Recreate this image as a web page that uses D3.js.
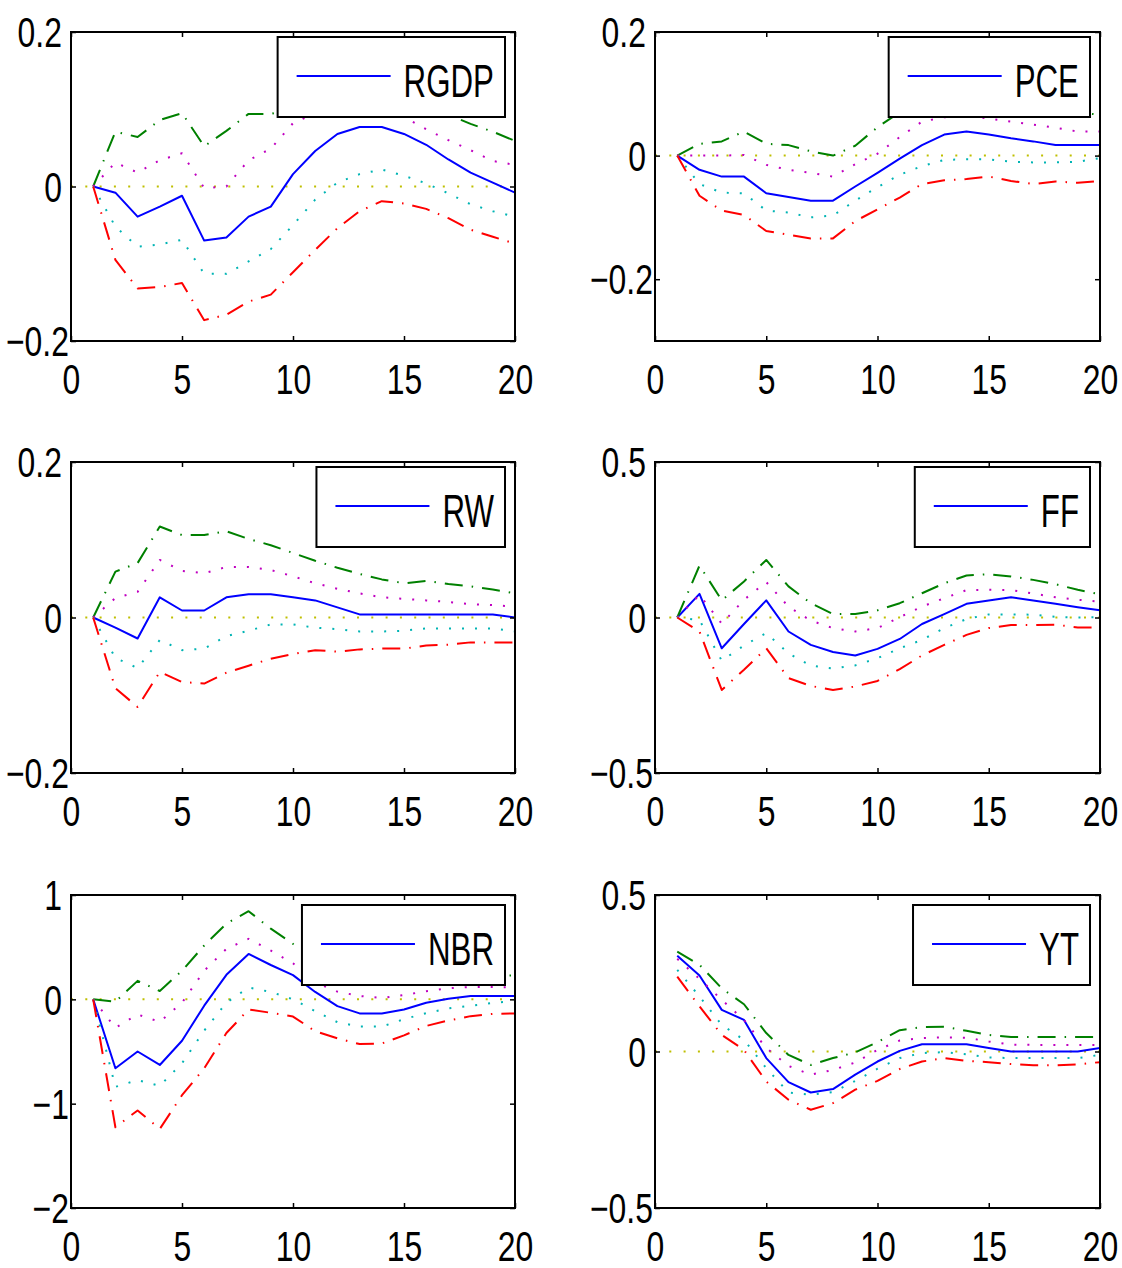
<!DOCTYPE html>
<html>
  <head>
    <title>Impulse responses</title>
    <script src="https://d3js.org/d3.v7.min.js"></script>
    <style>
      body { margin: 0; background: #fff; }
      text { font-family: "Liberation Sans", Arial, Helvetica, sans-serif; fill: #000; }
    </style>
  </head>
  <body>
    <div id="chart"></div>
    <script>
      // horizon (quarters) and x ticks
      const horizon = [1, 2, 3, 4, 5, 6, 7, 8, 9, 10, 11, 12, 13, 14, 15, 16, 17, 18, 19, 20];
      const xTicks = [0, 5, 10, 15, 20];

      // RGDP
      const rgdpMed  = [0, -0.008, -0.039, -0.026, -0.012, -0.070, -0.066, -0.039, -0.026, 0.016, 0.046, 0.068, 0.077, 0.077, 0.068, 0.054, 0.035, 0.018, 0.005, -0.008];
      const rgdpHi95 = [0, 0.071, 0.064, 0.086, 0.095, 0.052, 0.072, 0.094, 0.094, 0.100, 0.110, 0.120, 0.125, 0.125, 0.120, 0.108, 0.093, 0.081, 0.071, 0.059];
      const rgdpHi68 = [0, 0.031, 0.018, 0.034, 0.043, -0.002, 0.000, 0.034, 0.049, 0.082, 0.095, 0.105, 0.110, 0.100, 0.090, 0.074, 0.060, 0.047, 0.033, 0.028];
      const rgdpLo68 = [0, -0.052, -0.078, -0.075, -0.069, -0.113, -0.113, -0.097, -0.081, -0.050, -0.017, 0.005, 0.016, 0.022, 0.014, 0.004, -0.009, -0.023, -0.032, -0.039];
      const rgdpLo95 = [0, -0.095, -0.132, -0.130, -0.125, -0.173, -0.166, -0.149, -0.140, -0.111, -0.082, -0.054, -0.032, -0.019, -0.022, -0.029, -0.041, -0.056, -0.065, -0.074];

      // PCE
      const pceMed  = [0, -0.023, -0.034, -0.034, -0.061, -0.067, -0.073, -0.073, -0.050, -0.028, -0.005, 0.017, 0.034, 0.039, 0.034, 0.028, 0.023, 0.017, 0.017, 0.017];
      const pceHi95 = [0, 0.019, 0.023, 0.039, 0.019, 0.017, 0.007, 0.000, 0.016, 0.046, 0.070, 0.080, 0.085, 0.088, 0.085, 0.080, 0.077, 0.073, 0.070, 0.066];
      const pceHi68 = [0, 0.000, 0.000, 0.001, -0.015, -0.023, -0.028, -0.034, -0.014, 0.003, 0.030, 0.055, 0.062, 0.065, 0.060, 0.055, 0.050, 0.045, 0.039, 0.039];
      const pceLo68 = [0, -0.046, -0.060, -0.061, -0.089, -0.092, -0.100, -0.097, -0.073, -0.051, -0.031, -0.017, -0.007, -0.006, -0.006, -0.010, -0.011, -0.011, -0.010, -0.004];
      const pceLo95 = [0, -0.065, -0.089, -0.096, -0.122, -0.128, -0.134, -0.134, -0.106, -0.087, -0.068, -0.046, -0.040, -0.038, -0.034, -0.041, -0.046, -0.042, -0.044, -0.041];

      // RW
      const rwMed  = [0, -0.013, -0.027, 0.026, 0.009, 0.009, 0.026, 0.030, 0.030, 0.026, 0.022, 0.013, 0.004, 0.004, 0.004, 0.004, 0.004, 0.004, 0.004, 0.000];
      const rwHi95 = [0, 0.059, 0.070, 0.117, 0.106, 0.106, 0.111, 0.101, 0.093, 0.083, 0.073, 0.064, 0.056, 0.049, 0.044, 0.047, 0.043, 0.040, 0.036, 0.031];
      const rwHi68 = [0, 0.025, 0.033, 0.074, 0.060, 0.057, 0.065, 0.065, 0.061, 0.053, 0.044, 0.037, 0.031, 0.026, 0.024, 0.022, 0.020, 0.017, 0.016, 0.014];
      const rwLo68 = [0, -0.052, -0.065, -0.029, -0.042, -0.040, -0.024, -0.017, -0.009, -0.009, -0.013, -0.015, -0.018, -0.018, -0.017, -0.014, -0.014, -0.014, -0.014, -0.018];
      const rwLo95 = [0, -0.091, -0.115, -0.070, -0.083, -0.085, -0.071, -0.062, -0.053, -0.047, -0.042, -0.044, -0.041, -0.040, -0.040, -0.036, -0.035, -0.032, -0.032, -0.032];

      // FF
      const ffMed  = [0, 0.076, -0.099, -0.021, 0.055, -0.045, -0.088, -0.111, -0.122, -0.101, -0.069, -0.021, 0.011, 0.044, 0.055, 0.065, 0.055, 0.044, 0.033, 0.023];
      const ffHi95 = [0, 0.167, 0.055, 0.116, 0.185, 0.100, 0.046, 0.011, 0.011, 0.023, 0.046, 0.078, 0.110, 0.135, 0.139, 0.132, 0.121, 0.107, 0.089, 0.075];
      const ffHi68 = [0, 0.073, -0.020, 0.057, 0.114, 0.035, -0.010, -0.034, -0.045, -0.034, 0.001, 0.035, 0.062, 0.088, 0.089, 0.088, 0.077, 0.065, 0.057, 0.051];
      const ffLo68 = [0, -0.008, -0.139, -0.090, -0.050, -0.115, -0.155, -0.164, -0.154, -0.131, -0.099, -0.072, -0.034, -0.005, 0.010, 0.010, 0.009, 0.002, 0.000, 0.001];
      const ffLo95 = [0, -0.045, -0.233, -0.168, -0.099, -0.195, -0.220, -0.233, -0.222, -0.204, -0.166, -0.122, -0.088, -0.056, -0.034, -0.024, -0.024, -0.023, -0.032, -0.032];

      // NBR
      const nbrMed  = [0, -0.661, -0.500, -0.629, -0.397, -0.061, 0.235, 0.435, 0.329, 0.232, 0.071, -0.065, -0.135, -0.135, -0.097, -0.032, 0.006, 0.032, 0.032, 0.032];
      const nbrHi95 = [0, -0.023, 0.177, 0.080, 0.274, 0.516, 0.726, 0.845, 0.677, 0.532, 0.420, 0.300, 0.220, 0.200, 0.200, 0.200, 0.210, 0.220, 0.220, 0.230];
      const nbrHi68 = [0, -0.274, -0.145, -0.216, -0.032, 0.274, 0.484, 0.580, 0.468, 0.345, 0.161, 0.074, 0.032, 0.013, 0.042, 0.077, 0.106, 0.119, 0.119, 0.113];
      const nbrLo68 = [0, -0.839, -0.774, -0.829, -0.613, -0.300, -0.032, 0.113, 0.071, 0.000, -0.113, -0.219, -0.261, -0.261, -0.190, -0.132, -0.087, -0.061, -0.035, -0.016];
      const nbrLo95 = [0, -1.226, -1.065, -1.242, -0.919, -0.661, -0.323, -0.097, -0.129, -0.165, -0.306, -0.374, -0.429, -0.423, -0.345, -0.255, -0.203, -0.161, -0.139, -0.135];

      // YT
      const ytMed  = [0.306, 0.243, 0.133, 0.101, -0.021, -0.098, -0.131, -0.120, -0.074, -0.032, 0.002, 0.023, 0.023, 0.023, 0.011, 0.000, 0.000, 0.000, 0.000, 0.011];
      const ytHi95 = [0.319, 0.277, 0.202, 0.151, 0.059, -0.011, -0.043, -0.021, -0.003, 0.030, 0.068, 0.078, 0.079, 0.066, 0.053, 0.046, 0.046, 0.046, 0.046, 0.046];
      const ytHi68 = [0.296, 0.232, 0.165, 0.101, 0.011, -0.046, -0.074, -0.059, -0.035, 0.005, 0.035, 0.043, 0.045, 0.044, 0.032, 0.022, 0.021, 0.021, 0.021, 0.021];
      const ytLo68 = [0.261, 0.176, 0.085, 0.037, -0.053, -0.131, -0.138, -0.130, -0.094, -0.055, -0.021, -0.005, -0.002, -0.009, -0.019, -0.021, -0.021, -0.021, -0.021, -0.011];
      const ytLo95 = [0.239, 0.144, 0.053, 0.005, -0.096, -0.154, -0.186, -0.165, -0.122, -0.094, -0.056, -0.032, -0.021, -0.030, -0.034, -0.040, -0.044, -0.044, -0.041, -0.034];

      // y domains and ticks per panel
      const names = ["RGDP", "PCE", "RW", "FF", "NBR", "YT"];
      const yDomains = [[-0.2, 0.2], [-0.3, 0.2], [-0.2, 0.2], [-0.5, 0.5], [-2, 1], [-0.5, 0.5]];
      const yTicks = [[-0.2, 0, 0.2], [-0.2, 0, 0.2], [-0.2, 0, 0.2], [-0.5, 0, 0.5], [-2, -1, 0, 1], [-0.5, 0, 0.5]];
      const series = [
        [rgdpMed, rgdpHi95, rgdpHi68, rgdpLo68, rgdpLo95],
        [pceMed, pceHi95, pceHi68, pceLo68, pceLo95],
        [rwMed, rwHi95, rwHi68, rwLo68, rwLo95],
        [ffMed, ffHi95, ffHi68, ffLo68, ffLo95],
        [nbrMed, nbrHi95, nbrHi68, nbrLo68, nbrLo95],
        [ytMed, ytHi95, ytHi68, ytLo68, ytLo95]
      ];

      // line styles: median, upper 95, upper 68, lower 68, lower 95
      const styles = [
        { color: "#0000ff", dash: null, w: 2 },
        { color: "#008000", dash: "18 9 1.5 9", w: 2 },
        { color: "#c000c0", dash: "2 11", w: 2 },
        { color: "#00b4b4", dash: "2 11", w: 2 },
        { color: "#ff0000", dash: "18 9 1.5 9", w: 2 }
      ];

      const W = 1122, H = 1268;
      const colX = [[71, 515], [655, 1100]];
      const rowY = [[32, 341], [462, 773], [895, 1208]];
      const tickFont = 42, tickScale = 0.76, legFont = 46, legScale = 0.68;

      const svg = d3.select("#chart").append("svg").attr("width", W).attr("height", H);
      const fmt = (d) => String(d).replace("-", "\u2212");

      names.forEach((name, i) => {
        const [x0, x1] = colX[i % 2];
        const [y0, y1] = rowY[Math.floor(i / 2)];
        const x = d3.scaleLinear().domain([0, 20]).range([x0, x1]);
        const y = d3.scaleLinear().domain(yDomains[i]).range([y1, y0]);
        const g = svg.append("g");

        // zero line
        g.append("path")
          .attr("d", d3.line().x((d) => x(d[0])).y((d) => y(d[1]))([[0, 0], [20, 0]]))
          .attr("fill", "none")
          .attr("stroke", "#bfbf00")
          .attr("stroke-width", 2)
          .attr("stroke-dasharray", "2 12.3");

        const line = d3.line().x((d, k) => x(horizon[k])).y((d) => y(d));
        series[i].forEach((vals, k) => {
          const s = styles[k];
          g.append("path")
            .attr("d", line(vals))
            .attr("fill", "none")
            .attr("stroke", s.color)
            .attr("stroke-width", s.w)
            .attr("stroke-dasharray", s.dash)
            .attr("stroke-linejoin", "round");
        });

        // axes with inward ticks on all four sides
        const bottom = g.append("g").attr("transform", `translate(0,${y1})`)
          .call(d3.axisBottom(x).tickValues(xTicks).tickSizeInner(-5).tickSizeOuter(0).tickFormat(fmt));
        g.append("g").attr("transform", `translate(0,${y0})`)
          .call(d3.axisTop(x).tickValues(xTicks).tickSizeInner(-5).tickSizeOuter(0).tickFormat(""));
        const left = g.append("g").attr("transform", `translate(${x0},0)`)
          .call(d3.axisLeft(y).tickValues(yTicks[i]).tickSizeInner(-5).tickSizeOuter(0).tickFormat(fmt));
        g.append("g").attr("transform", `translate(${x1},0)`)
          .call(d3.axisRight(y).tickValues(yTicks[i]).tickSizeInner(-5).tickSizeOuter(0).tickFormat(""));
        g.selectAll(".domain").remove();
        g.selectAll(".tick line").attr("stroke", "#000").attr("stroke-width", 1.5);

        bottom.selectAll("text")
          .attr("y", null).attr("dy", null)
          .attr("transform", `translate(0,53) scale(${tickScale},1)`)
          .style("font-size", tickFont + "px")
          .attr("fill", "#000");
        left.selectAll("text")
          .attr("x", null).attr("dy", "0.35em")
          .attr("transform", (d) => `translate(${d < 0 ? -2 : -9},0) scale(${tickScale},1)`)
          .style("font-size", tickFont + "px")
          .attr("fill", "#000");

        // axes box
        g.append("rect")
          .attr("x", x0).attr("y", y0)
          .attr("width", x1 - x0).attr("height", y1 - y0)
          .attr("fill", "none").attr("stroke", "#000").attr("stroke-width", 2);

        // legend
        const leg = g.append("g");
        const legBox = leg.append("rect");
        const legLine = leg.append("line");
        const legText = leg.append("text").text(name).style("font-size", legFont + "px");
        const tw = legText.node().getComputedTextLength() * legScale;
        const boxW = 19 + 94 + 13 + tw + 11;
        const bx = x1 - 10 - boxW;
        const by = y0 + (i >= 4 ? 10 : 5);
        legBox.attr("x", bx).attr("y", by).attr("width", boxW).attr("height", 80)
          .attr("fill", "#fff").attr("stroke", "#000").attr("stroke-width", 2);
        legLine.attr("x1", bx + 19).attr("x2", bx + 113).attr("y1", by + 39).attr("y2", by + 39)
          .attr("stroke", "#0000ff").attr("stroke-width", 2);
        legText.attr("transform", `translate(${bx + 126},${by + 60}) scale(${legScale},1)`);
      });
    </script>
  </body>
</html>
